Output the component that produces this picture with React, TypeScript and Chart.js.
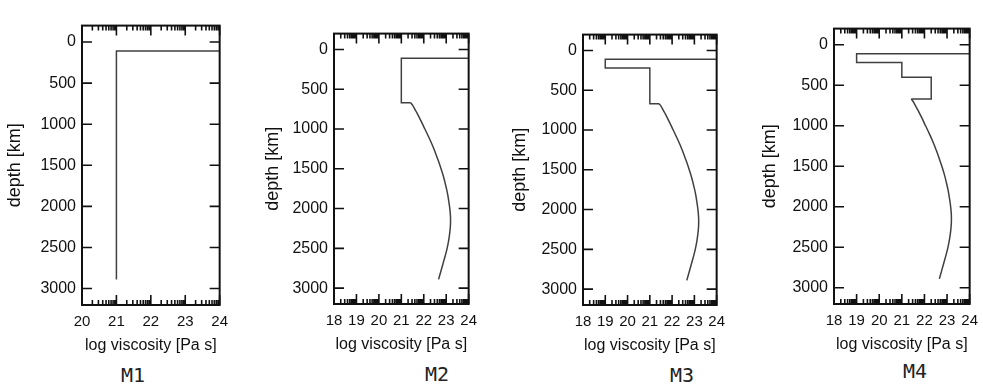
import React, { useEffect, useRef } from "react";
import { Chart, registerables } from "chart.js";

Chart.register(...registerables);

// ---- data ----
const DEPTH_TICKS = [0, 500, 1000, 1500, 2000, 2500, 3000];
const M1_VISC_TICKS = [20, 21, 22, 23, 24];
const M234_VISC_TICKS = [18, 19, 20, 21, 22, 23, 24];

const M1_VISC = [21, 21, 24];
const M1_DEPTH = [2890, 110, 110];

const M2_UPPER_VISC = [24, 21, 21, 21.42];
const M2_UPPER_DEPTH = [110, 110, 670, 670];

const M3_UPPER_VISC = [24, 19, 19, 21, 21, 21.42];
const M3_UPPER_DEPTH = [110, 110, 220, 220, 670, 670];

const M4_UPPER_VISC = [24, 19, 19, 21, 21, 22.3, 22.3, 21.42];
const M4_UPPER_DEPTH = [110, 110, 220, 220, 400, 400, 670, 670];

const LOWER_VISC = [
  21.42, 21.5, 21.6, 21.7, 21.88, 22.05, 22.22, 22.38, 22.52, 22.65, 22.77, 22.88, 22.97,
  23.05, 23.11, 23.16, 23.19, 23.19, 23.16, 23.11, 23.04, 22.95, 22.85, 22.75, 22.66,
];
const LOWER_DEPTH = [
  670, 700, 750, 800, 900, 1000, 1100, 1200, 1300, 1400, 1500, 1600, 1700,
  1800, 1900, 2000, 2100, 2200, 2300, 2400, 2500, 2600, 2700, 2800, 2890,
];

const MODEL_NAMES = ["M1", "M2", "M3", "M4"];

// ---- style / layout ----
const TEXT = "#111";
const LINE = "#404040";
const FONT_FAMILY = "'Liberation Sans', Arial, sans-serif";
const Y_TITLE_SIZE = 18;
const Y_TITLE_PAD = 3;
const X_AXIS_H = 54;
const PAD_TOP = 4;
const PAD_RIGHT = 12;

type Series = { x: number[]; y: number[]; smooth: boolean };
type Panel = {
  name: string;
  xMin: number;
  xMax: number;
  xTicks: number[];
  series: Series[];
  box: { l: number; r: number; t: number; b: number };
  titleX: number;
  label: { x: number; y: number };
};

const PANELS: Panel[] = [
  {
    name: MODEL_NAMES[0], xMin: 20, xMax: 24, xTicks: M1_VISC_TICKS,
    series: [{ x: M1_VISC, y: M1_DEPTH, smooth: false }],
    box: { l: 82, r: 224, t: 14, b: 305 }, titleX: 15, label: { x: 133, y: 375 },
  },
  {
    name: MODEL_NAMES[1], xMin: 18, xMax: 24, xTicks: M234_VISC_TICKS,
    series: [{ x: M2_UPPER_VISC, y: M2_UPPER_DEPTH, smooth: false }, { x: LOWER_VISC, y: LOWER_DEPTH, smooth: true }],
    box: { l: 334, r: 473, t: 22, b: 304 }, titleX: 273, label: { x: 437, y: 374 },
  },
  {
    name: MODEL_NAMES[2], xMin: 18, xMax: 24, xTicks: M234_VISC_TICKS,
    series: [{ x: M3_UPPER_VISC, y: M3_UPPER_DEPTH, smooth: false }, { x: LOWER_VISC, y: LOWER_DEPTH, smooth: true }],
    box: { l: 583, r: 721, t: 23, b: 305 }, titleX: 520, label: { x: 682, y: 375 },
  },
  {
    name: MODEL_NAMES[3], xMin: 18, xMax: 24, xTicks: M234_VISC_TICKS,
    series: [{ x: M4_UPPER_VISC, y: M4_UPPER_DEPTH, smooth: false }, { x: LOWER_VISC, y: LOWER_DEPTH, smooth: true }],
    box: { l: 834, r: 974, t: 17, b: 304 }, titleX: 770, label: { x: 915, y: 371 },
  },
];

const framePlugin = {
  id: "frameTicks",
  afterDraw(chart: any) {
    const { ctx, chartArea: a, scales } = chart;
    const x = scales.x;
    const y = scales.y;
    ctx.save();
    ctx.strokeStyle = "#111";
    ctx.lineWidth = 1.6;
    ctx.beginPath();
    for (const t of y.ticks) {
      const py = y.getPixelForValue(t.value);
      ctx.moveTo(a.left, py);
      ctx.lineTo(a.left + 10, py);
      ctx.moveTo(a.right, py);
      ctx.lineTo(a.right - 10, py);
    }
    for (let v = Math.ceil(x.min); v <= x.max; v++) {
      const px = x.getPixelForValue(v);
      ctx.moveTo(px, a.top);
      ctx.lineTo(px, a.top + 10);
      ctx.moveTo(px, a.bottom);
      ctx.lineTo(px, a.bottom - 10);
      for (let m = 2; m <= 9; m++) {
        const vv = v + Math.log10(m);
        if (vv >= x.max) break;
        const pm = x.getPixelForValue(vv);
        ctx.moveTo(pm, a.top);
        ctx.lineTo(pm, a.top + 5);
        ctx.moveTo(pm, a.bottom);
        ctx.lineTo(pm, a.bottom - 5);
      }
    }
    ctx.stroke();
    ctx.lineWidth = 2;
    ctx.strokeRect(a.left, a.top, a.right - a.left, a.bottom - a.top);
    ctx.restore();
  },
};

function PanelChart({ p }: { p: Panel }) {
  const ref = useRef<HTMLCanvasElement | null>(null);
  const canvasLeft = Math.round(p.titleX - (Y_TITLE_SIZE * 1.2) / 2 - Y_TITLE_PAD);
  const yAxisW = p.box.l - canvasLeft;
  const width = p.box.r - canvasLeft + PAD_RIGHT;
  const top = p.box.t - PAD_TOP;
  const height = PAD_TOP + (p.box.b - p.box.t) + X_AXIS_H;

  useEffect(() => {
    if (!ref.current) return;
    const chart = new Chart(ref.current, {
      type: "line",
      data: {
        datasets: p.series.map((s) => ({
          data: s.x.map((xv, i) => ({ x: xv, y: s.y[i] })),
          borderColor: LINE,
          borderWidth: 1.5,
          pointRadius: 0,
          fill: false,
          tension: s.smooth ? 0.4 : 0,
        })),
      },
      options: {
        animation: false,
        responsive: false,
        maintainAspectRatio: false,
        layout: { padding: { top: PAD_TOP, right: PAD_RIGHT, left: 0, bottom: 0 } },
        plugins: { legend: { display: false }, tooltip: { enabled: false } },
        scales: {
          x: {
            type: "linear",
            position: "bottom",
            min: p.xMin,
            max: p.xMax,
            afterBuildTicks: (s: any) => {
              s.ticks = p.xTicks.map((v) => ({ value: v }));
            },
            afterFit: (s: any) => {
              s.height = X_AXIS_H;
            },
            grid: { display: false, drawTicks: false },
            border: { display: false },
            ticks: {
              font: { family: FONT_FAMILY, size: 15 },
              color: TEXT, padding: 8, maxRotation: 0, autoSkip: false,
              callback: (v: any) => String(v),
            },
            title: {
              display: true,
              text: "log viscosity [Pa s]",
              font: { family: FONT_FAMILY, size: 16 },
              color: TEXT,
              padding: { top: 4, bottom: 4 },
            },
          },
          y: {
            type: "linear",
            position: "left",
            reverse: true,
            min: -200,
            max: 3200,
            afterBuildTicks: (s: any) => {
              s.ticks = DEPTH_TICKS.map((v) => ({ value: v }));
            },
            afterFit: (s: any) => {
              s.width = yAxisW;
            },
            grid: { display: false, drawTicks: false },
            border: { display: false },
            ticks: {
              font: { family: FONT_FAMILY, size: 16 },
              color: TEXT, padding: 6, autoSkip: false,
              callback: (v: any) => String(v),
            },
            title: {
              display: true,
              text: "depth [km]",
              font: { family: FONT_FAMILY, size: Y_TITLE_SIZE },
              color: TEXT,
              padding: { top: Y_TITLE_PAD, bottom: Y_TITLE_PAD },
            },
          },
        },
      },
      plugins: [framePlugin],
    } as any);
    return () => chart.destroy();
  }, []);

  return (
    <div style={{ position: "absolute", left: canvasLeft, top, width, height }}>
      <canvas ref={ref} width={width} height={height} style={{ width, height, display: "block" }} />
    </div>
  );
}

export default function App() {
  return (
    <div
      style={{
        position: "fixed",
        left: 0,
        top: 0,
        width: 983,
        height: 387,
        overflow: "hidden",
        background: "#fff",
      }}
    >
      {PANELS.map((p) => (
        <PanelChart key={p.name} p={p} />
      ))}
      {PANELS.map((p) => (
        <div
          key={p.name + "-label"}
          style={{
            position: "absolute",
            left: p.label.x,
            top: p.label.y,
            transform: "translate(-50%, -50%)",
            fontFamily: "'DejaVu Sans Mono', monospace",
            fontSize: 20,
            color: "#222",
            lineHeight: 1,
            whiteSpace: "nowrap",
          }}
        >
          {p.name}
        </div>
      ))}
    </div>
  );
}
